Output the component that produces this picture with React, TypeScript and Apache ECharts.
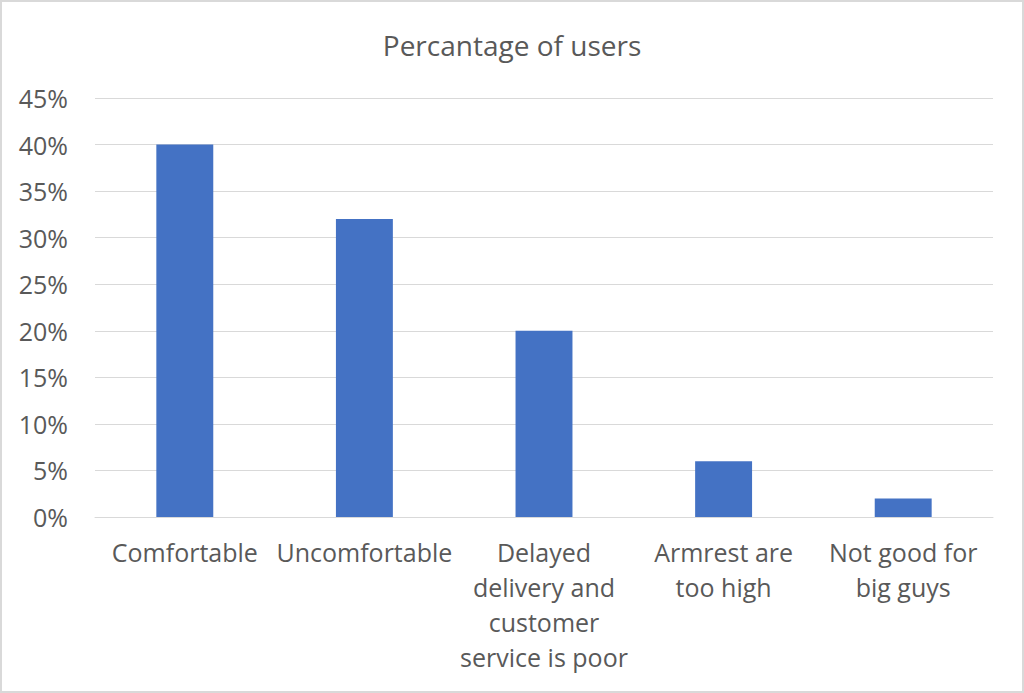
import {useEffect, useRef} from "react";
import * as echarts from "echarts";

const categories = [
    "Comfortable",
    "Uncomfortable",
    "Delayed\ndelivery and\ncustomer\nservice is poor",
    "Armrest are\ntoo high",
    "Not good for\nbig guys",
];
const percentValues = [40, 32, 20, 6, 2];
const chartTitle = "Percantage of users";

const FONT = "'Open Sans', 'Noto Sans', sans-serif";
const TEXT_COLOR = "#595959";

export default function App() {
    const domRef = useRef<HTMLDivElement>(null);

    useEffect(() => {
        document.body.style.margin = "0";
        if (!domRef.current) return;
        const chart = echarts.init(domRef.current, null, {renderer: "svg"});
        chart.setOption({
            animation: false,
            backgroundColor: "#ffffff",
            title: {
                text: chartTitle,
                left: "center",
                top: 24,
                textStyle: {fontFamily: FONT, fontSize: 28, fontWeight: "normal", color: TEXT_COLOR},
            },
            grid: {left: 93, right: 29, top: 96, bottom: 174},
            xAxis: {
                type: "category",
                data: categories,
                axisTick: {show: false},
                axisLine: {lineStyle: {color: "#d9d9d9", width: 1}},
                axisLabel: {
                    interval: 0,
                    margin: 17,
                    fontFamily: FONT,
                    fontSize: 25,
                    lineHeight: 35,
                    color: TEXT_COLOR,
                    align: "center",
                },
            },
            yAxis: {
                type: "value",
                min: 0,
                max: 45,
                interval: 5,
                axisLine: {show: false},
                axisTick: {show: false},
                splitLine: {lineStyle: {color: "#d9d9d9", width: 1}},
                axisLabel: {
                    margin: 27,
                    formatter: "{value}%",
                    fontFamily: FONT,
                    fontSize: 25,
                    color: TEXT_COLOR,
                },
            },
            series: [{
                type: "bar",
                data: percentValues,
                barWidth: "31.7%",
                itemStyle: {color: "#4472c4"},
            }],
        });
        return () => chart.dispose();
    }, []);

    return (
        <div style={{width: 1024, height: 693, boxSizing: "border-box", border: "2px solid #d9d9d9", overflow: "hidden"}}>
            <div ref={domRef} style={{width: 1020, height: 689}} />
        </div>
    );
}
